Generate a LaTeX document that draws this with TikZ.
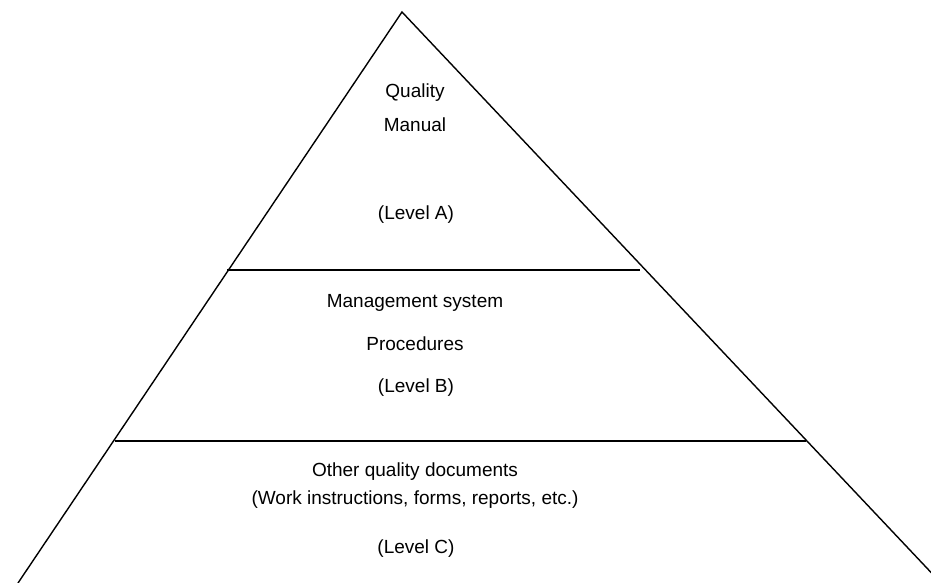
\documentclass[tikz,border=0pt]{standalone}
\usepackage{fontspec}
\setmainfont{Liberation Sans}
\tikzset{
  edge/.style={line width=1.4pt, black},
  lbl/.style={anchor=mid, inner sep=0pt, font=\fontsize{19}{22}\selectfont}
}
\begin{document}
\begin{tikzpicture}[x=1pt,y=-1pt]
\useasboundingbox (0,0) rectangle (931,583);
\clip (0,0) rectangle (931,583);
\fill[white] (0,0) rectangle (931,583);
\coordinate (apex) at (402,12);
\coordinate (bl) at (18,583);
\coordinate (br) at (941,583);
\coordinate (l1a) at (227,270);
\coordinate (l1b) at (640,270);
\coordinate (l2a) at (115,441);
\coordinate (l2b) at (806,441);
\draw[edge] (bl) -- (apex) -- (br);
\draw[edge] (l1a) -- (l1b);
\draw[edge] (l2a) -- (l2b);
\node[lbl] (qa) at (415,95) {Quality};
\node[lbl] (qb) at (415,129) {Manual};
\node[lbl] (qc) at (416,217) {(Level A)};
\node[lbl] (ma) at (415,305) {Management system};
\node[lbl] (mb) at (415,348) {Procedures};
\node[lbl] (mc) at (416,390) {(Level B)};
\node[lbl] (oa) at (415,474) {Other quality documents};
\node[lbl] (ob) at (415,502) {(Work instructions, forms, reports, etc.)};
\node[lbl] (oc) at (416,551) {(Level C)};
\end{tikzpicture}
\end{document}
